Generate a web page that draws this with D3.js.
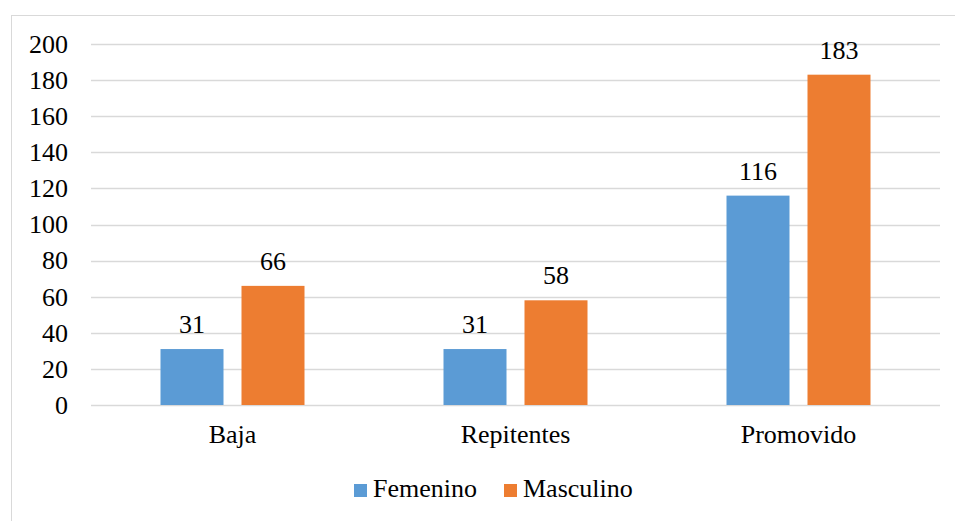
<!DOCTYPE html>
<html>
<head>
<meta charset="utf-8">
<script src="https://cdn.jsdelivr.net/npm/d3@7"></script>
</head>
<body style="margin:0">
<div id="chart"></div>
<script>
const categories = ['Baja', 'Repitentes', 'Promovido'];
const seriesNames = ['Femenino', 'Masculino'];
const femenino = [31, 31, 116];
const masculino = [66, 58, 183];
const yTicks = [0, 20, 40, 60, 80, 100, 120, 140, 160, 180, 200];
const colors = ['#5B9BD5', '#ED7D31'];

const FONT = '26px Tinos, Liberation Serif, Times New Roman, serif';
const W = 955, H = 521;
const margin = {top: 44, right: 15, bottom: 116, left: 91};
const width = W - margin.left - margin.right,
    height = H - margin.top - margin.bottom;

const svg = d3.select('#chart')
    .append('svg')
    .attr('width', W)
    .attr('height', H)
    .style('font', FONT);

// outer chart frame (runs off the right/bottom edge)
svg.append('rect')
    .attr('x', 11.5).attr('y', 15.5)
    .attr('width', W + 20).attr('height', H + 20)
    .attr('fill', 'none')
    .attr('stroke', '#d9d9d9');

const g = svg.append('g')
    .attr('transform', `translate(${margin.left},${margin.top})`);

const x = d3.scaleBand().domain(categories).range([0, width]).padding(0);
const y = d3.scaleLinear().domain([0, 200]).range([height, 0]);

// gridlines
g.selectAll('.grid')
    .data(yTicks)
    .enter()
    .append('line')
    .attr('x1', 0).attr('x2', width)
    .attr('y1', d => Math.round(y(d)) + 0.5)
    .attr('y2', d => Math.round(y(d)) + 0.5)
    .attr('stroke', '#d9d9d9')
    .attr('stroke-width', 1.3);

// y axis labels
const yAxis = g.append('g')
    .call(d3.axisLeft(y).tickValues(yTicks).tickSize(0).tickPadding(23));
yAxis.select('.domain').remove();
yAxis.selectAll('text').style('font', FONT);

// x axis labels
const xAxis = g.append('g')
    .attr('transform', `translate(0,${height})`)
    .call(d3.axisBottom(x).tickSize(0).tickPadding(20));
xAxis.select('.domain').remove();
xAxis.selectAll('text').style('font', FONT);

// bars
const barW = 63, gap = 18;
const inner = d3.scaleOrdinal(seriesNames, [
    x.bandwidth() / 2 - gap / 2 - barW,
    x.bandwidth() / 2 + gap / 2
]);
const series = [femenino, masculino];

const rows = [];
categories.forEach((c, i) => {
    seriesNames.forEach((s, j) => rows.push({cat: c, name: s, value: series[j][i], color: colors[j]}));
});

g.selectAll('.bar')
    .data(rows)
    .enter()
    .append('rect')
    .attr('class', 'bar')
    .attr('x', d => x(d.cat) + inner(d.name))
    .attr('y', d => y(d.value))
    .attr('width', barW)
    .attr('height', d => height - y(d.value))
    .attr('fill', d => d.color);

g.selectAll('.lbl')
    .data(rows)
    .enter()
    .append('text')
    .attr('class', 'lbl')
    .attr('x', d => x(d.cat) + inner(d.name) + barW / 2)
    .attr('y', d => y(d.value) - 16)
    .attr('text-anchor', 'middle')
    .style('font', FONT)
    .text(d => d.value);

// legend
const legend = svg.append('g').attr('transform', 'translate(354,484)');
const offs = [0, 150];
seriesNames.forEach((s, i) => {
    const lg = legend.append('g').attr('transform', `translate(${offs[i]},0)`);
    lg.append('rect').attr('width', 13).attr('height', 13).attr('fill', colors[i]);
    lg.append('text')
        .attr('x', 19).attr('y', 13)
        .style('font', FONT)
        .text(s);
});
</script>
</body>
</html>
